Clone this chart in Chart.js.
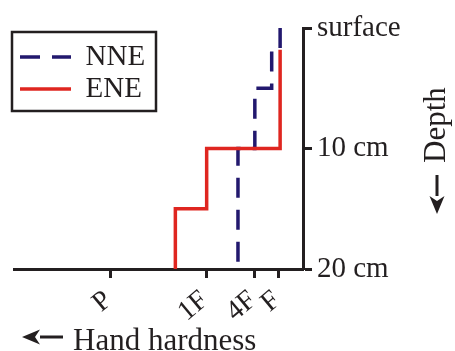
<!DOCTYPE html>
<html>
<head>
<meta charset="utf-8">
<script src="https://cdn.jsdelivr.net/npm/chart.js@4"></script>
<style>
  body { margin: 0; background: #fff; }
  #wrap { width: 455px; height: 351px; }
</style>
</head>
<body>
<div id="wrap"><canvas id="profileChart" width="455" height="351"></canvas></div>
<script>
// Hand hardness profile
const hardnessTicks = [1, 2, 4, 8];
const hardnessLabels = ['F', '4F', '1F', 'P'];

const depthTicks = [0, 10, 20];
const depthLabels = ['surface', '10 cm', '20 cm'];

// NNE profile (depth in cm, hardness index)
const nneDepth = [0, 1.8, 1.8, 5, 5, 10, 10, 20];
const nneHardness = [0.95, 0.95, 1.3, 1.3, 2, 2, 2.7, 2.7];

// ENE profile
const eneDepth = [1.8, 10, 10, 15, 15, 20];
const eneHardness = [0.95, 0.95, 4, 4, 5.3, 5.3];

const ink = '#231f20';
const serif = 'Liberation Serif';

function toPoints(hardness, depth) {
  return hardness.map((h, i) => ({ x: h, y: depth[i] }));
}

function arrow(ctx, x1, y1, x2, y2) {
  // tail (x1,y1) -> tip (x2,y2), solid head
  const a = Math.atan2(y2 - y1, x2 - x1);
  const len = 18, half = 7.5;
  const bx = x2 - Math.cos(a) * len, by = y2 - Math.sin(a) * len;
  ctx.beginPath();
  ctx.moveTo(x1, y1);
  ctx.lineTo(bx, by);
  ctx.lineWidth = 3;
  ctx.stroke();
  ctx.beginPath();
  ctx.moveTo(x2, y2);
  ctx.lineTo(bx - Math.sin(a) * half, by + Math.cos(a) * half);
  ctx.lineTo(bx + 5 * Math.cos(a), by + 5 * Math.sin(a));
  ctx.lineTo(bx + Math.sin(a) * half, by - Math.cos(a) * half);
  ctx.closePath();
  ctx.fill();
}

// legend frame + axis titles
const extras = {
  id: 'extras',
  afterLayout(chart) {
    chart.legend.left = 17;
    chart.legend.top = 39.5;
  },
  afterDraw(chart) {
    const ctx = chart.ctx;
    ctx.save();
    ctx.strokeStyle = ink;
    ctx.fillStyle = ink;
    ctx.lineWidth = 2.5;
    ctx.strokeRect(12, 32, 144, 79);

    ctx.font = '31px "' + serif + '"';
    ctx.textBaseline = 'alphabetic';
    ctx.textAlign = 'left';
    ctx.fillText('Hand hardness', 73, 350);
    arrow(ctx, 63, 337, 22, 337);

    arrow(ctx, 437, 175, 437, 214);
    ctx.translate(445, 163);
    ctx.rotate(-Math.PI / 2);
    ctx.fillText('Depth', 0, 0);
    ctx.restore();
  }
};

const profileData = {
  datasets: [{
    label: 'ENE',
    data: toPoints(eneHardness, eneDepth),
    borderColor: '#df2620',
    backgroundColor: '#df2620',
    borderWidth: 3.5,
  }, {
    label: 'NNE',
    data: toPoints(nneHardness, nneDepth),
    borderColor: '#22186e',
    backgroundColor: '#22186e',
    borderWidth: 3.5,
    borderDash: [20, 12],
  }]
};

const config = {
  type: 'line',
  data: profileData,
  options: {
    responsive: false,
    animation: false,
    layout: { padding: { left: 14, top: 28, right: 0, bottom: 0 } },
    elements: {
      point: { radius: 0 },
      line: { borderCapStyle: 'butt', borderJoinStyle: 'miter', tension: 0 }
    },
    plugins: {
      tooltip: { enabled: false },
      legend: {
        position: 'chartArea',
        align: 'start',
        reverse: true,
        labels: {
          usePointStyle: true,
          pointStyle: 'line',
          pointStyleWidth: 51,
          padding: 3,
          color: ink,
          font: { family: serif, size: 29 },
          generateLabels: (chart) => {
            const items = Chart.defaults.plugins.legend.labels.generateLabels(chart);
            return items.map(item => {
              const ds = chart.data.datasets[item.datasetIndex];
              item.lineDash = ds.borderDash || [];
              item.lineWidth = ds.borderWidth;
              item.strokeStyle = ds.borderColor;
              item.pointStyle = 'line';
              return item;
            });
          }
        }
      }
    },
    scales: {
      x: {
        type: 'linear',
        reverse: true,
        min: 0,
        max: 12,
        afterBuildTicks: (scale) => {
          scale.ticks = hardnessTicks.map(v => ({ value: v }));
        },
        afterFit: (scale) => { scale.height = 82; },
        ticks: {
          minRotation: 40,
          maxRotation: 40,
          padding: 6,
          labelOffset: -2,
          color: ink,
          font: { family: serif, size: 28 },
          callback: (value, index) => hardnessLabels[index]
        },
        grid: { drawOnChartArea: false, drawTicks: true, tickLength: 9, tickWidth: 3, tickColor: ink },
        border: { display: true, width: 3, color: ink }
      },
      y: {
        type: 'linear',
        position: 'right',
        reverse: true,
        min: 0,
        max: 20,
        afterBuildTicks: (scale) => {
          scale.ticks = depthTicks.map(v => ({ value: v }));
        },
        afterFit: (scale) => { scale.width = 152; },
        ticks: {
          padding: 5,
          color: ink,
          font: { family: serif, size: 29 },
          callback: (value, index) => depthLabels[index]
        },
        grid: { drawOnChartArea: false, drawTicks: true, tickLength: 9, tickWidth: 3, tickColor: ink },
        border: { display: true, width: 3, color: ink }
      }
    }
  },
  plugins: [extras]
};

const profileChart = new Chart(
  document.getElementById('profileChart'),
  config
);
</script>
</body>
</html>
